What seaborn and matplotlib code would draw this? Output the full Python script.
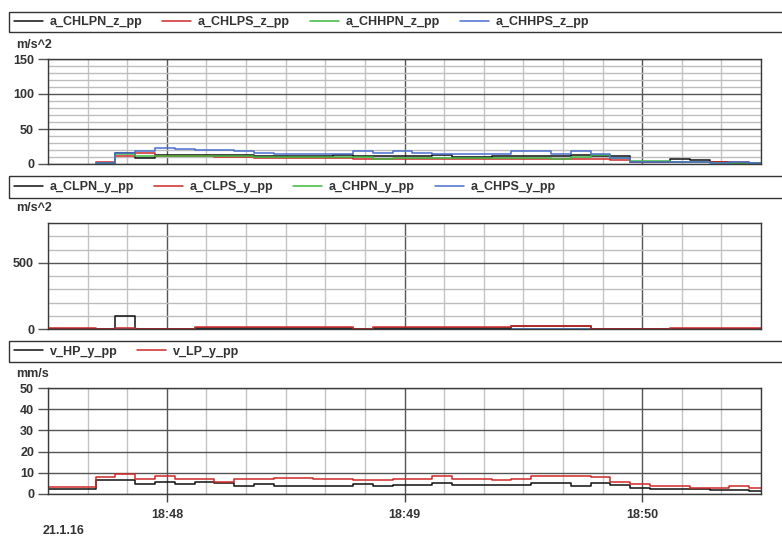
import numpy as np
import pandas as pd
import matplotlib
matplotlib.use("Agg")
import matplotlib.pyplot as plt
import matplotlib.dates as mdates
import matplotlib.ticker as mticker
from matplotlib.patches import Rectangle
import seaborn as sns

nan = np.nan

# ---- time axis: 5 s samples (step boundaries) ----
T0 = "2016-01-21 18:47:27"
X_MIN = pd.Timestamp("2016-01-21 18:47:30")
X_MAX = pd.Timestamp("2016-01-21 18:50:30")
date_label = "21.1.16"

# ---- panel 1 (m/s^2) ----
names_z = ["a_CHLPN_z_pp", "a_CHLPS_z_pp", "a_CHHPN_z_pp", "a_CHHPS_z_pp"]
a_CHLPN_z_pp = [nan, nan, nan, 1.5, 15.5, 9, 12.5, 12.5, 13.5, 12.5, 12.5, 11, 12, 12, 11, 12.5, 11,
                11.5, 11, 11, 13, 10, 10, 12, 12, 12, 11.5, 13.5, 12, 11, 3, 3, 7.5, 6, 3, 2, 1.4]
a_CHLPS_z_pp = [nan, nan, nan, 2.5, 12, 15.5, 12, 12, 11, 10, 10, 8, 8, 8, 8, 8, 7.5,
                7.5, 7.5, 7.5, 7.5, 7.5, 7.5, 7.5, 7.5, 7.5, 7, 7, 6.5, 5.5, 2.4, 2.4, 2.4, 2.4, 2.4, 2.4, 1.5]
a_CHHPN_z_pp = [nan, nan, nan, 1.5, 14, 11, 12, 12, 12, 11, 11, 10, 10.5, 10.5, 10.5, 9.5, 10.5,
                7.5, 9, 9, 9, 9, 9, 9, 9, 8.5, 7.5, 9.5, 13, 8, 4.5, 4.5, 3.5, 2.5, 2, 2, 1.5]
a_CHHPS_z_pp = [nan, nan, nan, 1.5, 16, 19, 23, 21, 20.5, 19.5, 18, 16, 15, 15, 15, 15, 18.5,
                16, 18.5, 15.5, 15, 15, 15, 15, 18, 18, 15, 18, 15, 8, 3, 3, 3, 3, 2, 2.4, 2]

# ---- panel 2 (m/s^2) ----
names_y = ["a_CLPN_y_pp", "a_CLPS_y_pp", "a_CHPN_y_pp", "a_CHPS_y_pp"]
a_CLPN_y_pp = [0, 0, 0, 3, 100, 3, 3, 3, 10, 10, 10, 10, 10, 10, 10, 10, 3,
               10, 10, 10, 10, 10, 10, 10, 25, 25, 25, 25, 3, 3, 3, 3, 0, 0, 0, 0, 0]
a_CLPS_y_pp = [5, 5, 5, 0, 5, 0, 0, 0, 15, 15, 15, 15, 15, 15, 15, 15, 0,
               15, 15, 15, 15, 15, 15, 15, 20, 20, 20, 20, 0, 0, 0, 0, 6, 6, 6, 6, 6]
a_CHPN_y_pp = [0, 0, 0, 0, 0, 0, 0, 0, 0, 0, 0, 0, 0, 0, 0, 0, 0,
               0, 0, 0, 0, 0, 0, 0, 0, 0, 0, 0, 0, 0, 0, 0, 0, 0, 0, 0, 0]
a_CHPS_y_pp = [0, 0, 0, 0, 0, 0, 0, 0, 0, 0, 0, 0, 0, 0, 0, 0, 0,
               0, 0, 0, 0, 0, 0, 0, 0, 0, 0, 0, 0, 0, 0, 0, 0, 0, 0, 0, 0]

# ---- panel 3 (mm/s) ----
names_v = ["v_HP_y_pp", "v_LP_y_pp"]
v_HP_y_pp = [2.4, 2.4, 2.4, 6.4, 6.4, 4.7, 5.5, 4.7, 5.5, 5.0, 3.9, 4.7, 3.9, 3.9, 3.9, 3.9, 4.7,
             3.9, 4.2, 4.2, 5.0, 4.2, 4.2, 4.2, 4.2, 5.0, 5.0, 3.8, 5.0, 4.2, 2.8, 2.5, 2.2, 2.5, 1.7, 1.7, 1.3]
v_LP_y_pp = [3.1, 3.1, 3.1, 7.8, 9.3, 7.0, 8.3, 7.0, 7.0, 5.8, 7.0, 7.0, 7.7, 7.7, 7.0, 7.0, 6.5,
             6.5, 7.2, 7.2, 8.7, 7.2, 7.2, 6.5, 7.2, 8.3, 8.7, 8.7, 8.0, 5.8, 4.5, 3.7, 3.7, 3.0, 3.0, 3.7, 3.0]

units = ["m/s^2", "m/s^2", "mm/s"]
colors = ["#101010", "#d02828", "#3cb83c", "#4a6ed0"]

sns.set_style("white")
plt.rcParams["font.family"] = ["Liberation Sans", "DejaVu Sans"]
plt.rcParams["font.weight"] = "bold"
plt.rcParams["font.size"] = 9

W, H = 782, 536
fig = plt.figure(figsize=(W / 100, H / 100), dpi=100)


def fx(px):
    return px / W


def fy(py):
    return 1 - py / H


def step_frame(values):
    t = pd.date_range(T0, periods=len(values) + 1, freq="5s")
    v = list(values) + [values[-1]]
    return pd.DataFrame({"time": t, "value": v})


# axes (pixel boxes: top, bottom)
boxes = [(59, 164), (223, 329), (388, 494)]
legend_boxes = [(12, 32), (176, 198), (341, 362)]
unit_y = [45, 208, 374]
L, R = 48, 761

series = [
    list(zip(names_z, [a_CHLPN_z_pp, a_CHLPS_z_pp, a_CHHPN_z_pp, a_CHHPS_z_pp], colors)),
    list(zip(names_y, [a_CLPN_y_pp, a_CLPS_y_pp, a_CHPN_y_pp, a_CHPS_y_pp], colors)),
    list(zip(names_v, [v_HP_y_pp, v_LP_y_pp], colors[:2])),
]

axes = []
for i, (top, bot) in enumerate(boxes):
    ax = fig.add_axes([fx(L), fy(bot), fx(R - L), (bot - top) / H])
    axes.append(ax)
    order = list(range(len(series[i])))
    if i == 1:
        order = [2, 3, 0, 1]
    for k in order:
        name, vals, col = series[i][k]
        df = step_frame(vals)
        sns.lineplot(data=df, x="time", y="value", ax=ax, color=col,
                     drawstyle="steps-post", estimator=None, linewidth=1.1,
                     label=name, legend=False)
    ax.set_xlim(X_MIN, X_MAX)
    ax.set_xlabel("")
    ax.set_ylabel("")
    ax.xaxis.set_major_locator(mdates.MinuteLocator())
    ax.xaxis.set_minor_locator(mdates.SecondLocator(bysecond=[10, 20, 30, 40, 50]))
    ax.xaxis.set_major_formatter(mdates.DateFormatter("%H:%M"))
    ax.grid(True, which="major", axis="x", color="#555555", lw=1.0)
    ax.grid(True, which="minor", axis="x", color="#c4c4c4", lw=1.0)
    ax.set_axisbelow(True)
    for sp in ax.spines.values():
        sp.set_visible(True)
        sp.set_color("#3a3a3a")
        sp.set_linewidth(1.0)
    ax.tick_params(axis="y", which="major", left=True, length=7, width=1,
                   color="#555555", pad=3, labelsize=9, labelcolor="#333333")
    ax.tick_params(axis="y", which="minor", left=False, length=0)
    if i < 2:
        ax.tick_params(axis="x", which="both", bottom=False, labelbottom=False, length=0)
    else:
        ax.tick_params(axis="x", which="major", bottom=True, length=6, width=1,
                       color="#444444", pad=5, labelsize=9, labelcolor="#333333")
        ax.tick_params(axis="x", which="minor", bottom=False, length=0)

    # legend box
    lt, lb = legend_boxes[i]
    fig.add_artist(Rectangle((fx(9), fy(lb)), fx(W + 20 - 9), (lb - lt) / H,
                             transform=fig.transFigure, fill=False,
                             edgecolor="#333333", lw=1.0, clip_on=False))
    handles, labels = ax.get_legend_handles_labels()
    hl = dict(zip(labels, handles))
    names = [s[0] for s in series[i]]
    fig.legend([hl[n] for n in names], names, loc="center left",
               bbox_to_anchor=(fx(14), fy((lt + lb) / 2)), ncol=len(names),
               frameon=False, borderpad=0, borderaxespad=0, handlelength=2.3,
               handletextpad=0.55, columnspacing=1.6, fontsize=9,
               labelcolor="#333333")
    fig.text(fx(16), fy(unit_y[i]), units[i], ha="left", va="center",
             fontsize=9, color="#333333", fontweight="bold")

# y axes
axes[0].set_ylim(0, 150)
axes[0].yaxis.set_major_locator(mticker.FixedLocator([0, 50, 100, 150]))
axes[0].yaxis.set_minor_locator(mticker.MultipleLocator(10))
axes[0].grid(True, which="major", axis="y", color="#555555", lw=1.0)
axes[0].grid(True, which="minor", axis="y", color="#bdbdbd", lw=1.0)

axes[1].set_ylim(0, 800)
axes[1].yaxis.set_major_locator(mticker.FixedLocator([0, 500]))
axes[1].yaxis.set_minor_locator(mticker.MultipleLocator(100))
axes[1].grid(True, which="major", axis="y", color="#555555", lw=1.0)
axes[1].grid(True, which="minor", axis="y", color="#bdbdbd", lw=1.0)

axes[2].set_ylim(0, 50)
axes[2].yaxis.set_major_locator(mticker.MultipleLocator(10))
axes[2].grid(True, which="major", axis="y", color="#555555", lw=1.0)

fig.text(fx(43), fy(531), date_label, ha="left", va="center", fontsize=9,
         color="#333333", fontweight="bold")

fig.savefig("out.png", dpi=100)
